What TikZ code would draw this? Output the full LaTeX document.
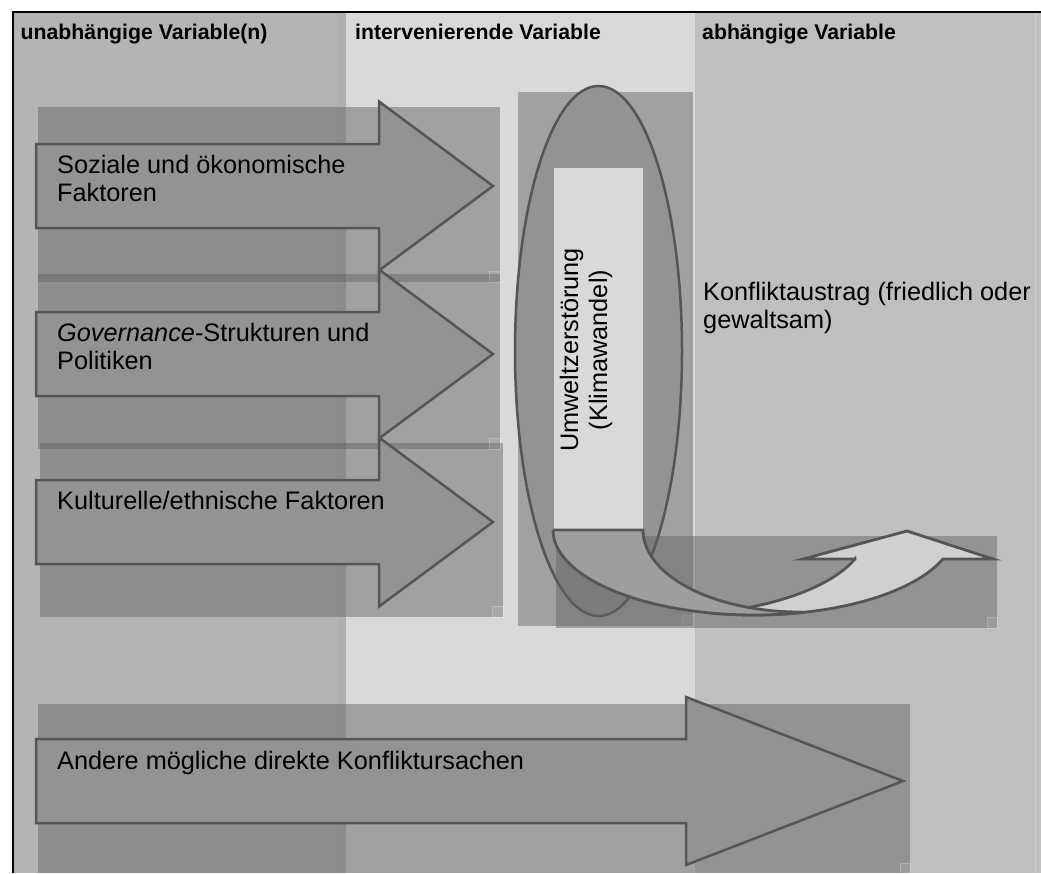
\documentclass[tikz,border=0pt]{standalone}
\usepackage{fontspec}
\setmainfont{Liberation Sans}
\usetikzlibrary{shapes.geometric}
\definecolor{colL}{HTML}{B4B4B4}
\definecolor{colLs}{HTML}{AFAFAF}
\definecolor{colM}{HTML}{D9D9D9}
\definecolor{colR}{HTML}{BFBFBF}
\definecolor{shade}{HTML}{616161}
\definecolor{arrowfill}{HTML}{939393}
\definecolor{edge}{HTML}{555555}
\definecolor{darkpiece}{HTML}{9E9E9E}
\definecolor{lightpiece}{HTML}{D0D0D0}
\begin{document}
\begin{tikzpicture}[x=1pt,y=-1pt,
  backrect/.style={fill=shade, fill opacity=0.46, draw=none},
  grip/.style={fill=white, fill opacity=0.08, draw=white, draw opacity=0.2, line width=0.5pt},
  bigarrow/.style={fill=arrowfill, draw=edge, line width=2.5pt, line join=miter},
  curv/.style={draw=edge, line width=2.8pt, line join=miter},
  bodytxt/.style={anchor=base west, inner sep=0pt, font=\fontsize{25.3}{28.5}\selectfont, text=black},
  rottxt/.style={anchor=base, inner sep=0pt, rotate=90, font=\fontsize{25.3}{28.5}\selectfont, text=black},
  headtxt/.style={anchor=base west, inner sep=0pt, font=\fontsize{21.25}{25}\selectfont\bfseries, text=black}]
\useasboundingbox (0,0) rectangle (1041,873);
% column backgrounds
\fill[white] (0,0) rectangle (1041,873);
\fill[colL] (13,12) rectangle (346,873);
\fill[colLs] (337,12) rectangle (346,873);
\fill[colM] (346,12) rectangle (695,873);
\fill[colR] (695,12) rectangle (1041,873);
\draw[color=white, opacity=0.25, line width=1pt] (1035.5,12) -- (1035.5,873);
% frame
\draw[black, line width=2pt] (11.5,11.8) -- (1041,11.8);
\draw[black, line width=2pt] (12.7,10.8) -- (12.7,873);
% headers
\node[headtxt] (h1) at (20.5,39.5) {unabhängige Variable(n)};
\node[headtxt] (h2) at (355,39.5) {intervenierende Variable};
\node[headtxt] (h3) at (702,39.5) {abhängige Variable};
% back rectangles
\fill[backrect] (38,107) rectangle (500,282);
\fill[backrect] (38,274) rectangle (500,449);
\fill[backrect] (40,443) rectangle (503,617);
\fill[backrect] (518,92) rectangle (693,626);
\draw[grip] (489,271) rectangle (500,282);
\draw[grip] (489,438) rectangle (500,449);
\draw[grip] (492,606) rectangle (503,617);
\draw[grip] (682,615) rectangle (693,626);
% three arrows
\draw[bigarrow] (36,144) -- (379,144) -- (379,101.5) -- (493,186) -- (379,270.5) -- (379,228) -- (36,228) -- cycle;
\draw[bigarrow] (36,312) -- (379,312) -- (379,269.5) -- (493,354) -- (379,438.5) -- (379,396) -- (36,396) -- cycle;
\draw[bigarrow] (36,480) -- (379,480) -- (379,437.5) -- (493,522) -- (379,606.5) -- (379,564) -- (36,564) -- cycle;
\node[bodytxt] (a1a) at (57,173) {Soziale und ökonomische};
\node[bodytxt] (a1b) at (57,201.5) {Faktoren};
\node[bodytxt] (a2a) at (57,341) {\textit{Governance}-Strukturen und};
\node[bodytxt] (a2b) at (57,369.5) {Politiken};
\node[bodytxt] (a3a) at (57,509) {Kulturelle/ethnische Faktoren};
% ellipse with inner box
\node[ellipse, draw=edge, fill=arrowfill, line width=2.5pt, minimum width=167pt, minimum height=530pt, inner sep=0pt] (env) at (598.5,351) {};
\node[fill=colM, draw=none, minimum width=89pt, minimum height=362pt, inner sep=0pt] (envbox) at (598.5,349) {};
\node[rottxt] (u1) at (578,350) {Umweltzerstörung};
\node[rottxt] (u2) at (607,350) {(Klimawandel)};
% dependent variable text
\node[bodytxt] (k1) at (703,300) {Konfliktaustrag (friedlich oder};
\node[bodytxt] (k2) at (703,328.5) {gewaltsam)};
% lower rectangle
\fill[backrect] (556,536) rectangle (997,628);
\draw[grip] (987,617) rectangle (997,628);
% curved up arrow: light front piece
\draw[curv, fill=lightpiece] plot[domain=102.6:19.9, samples=50] ({754+201*cos(\x)},{530+85*sin(\x)})
  -- (993,559) -- (907,531) -- (803,559) -- (855,559)
  -- plot[domain=19.9:77.4, samples=50] ({666+201*cos(\x)},{530+85*sin(\x)}) -- cycle;
% dark back piece
\draw[curv, fill=darkpiece] (553,530) -- (643,530)
  -- plot[domain=180:90, samples=50] ({800+157*cos(\x)},{530+82*sin(\x)})
  -- plot[domain=76.8:180, samples=50] ({754+201*cos(\x)},{530+85*sin(\x)}) -- cycle;
% bottom rectangle and arrow
\fill[backrect] (38,704) rectangle (910,873);
\draw[grip] (900,863) rectangle (910,874);
\draw[bigarrow] (36,739) -- (686,739) -- (686,697) -- (903,781) -- (686,865) -- (686,823) -- (36,823) -- cycle;
\node[bodytxt] (a4) at (57,769) {Andere mögliche direkte Konfliktursachen};
\end{tikzpicture}
\end{document}
